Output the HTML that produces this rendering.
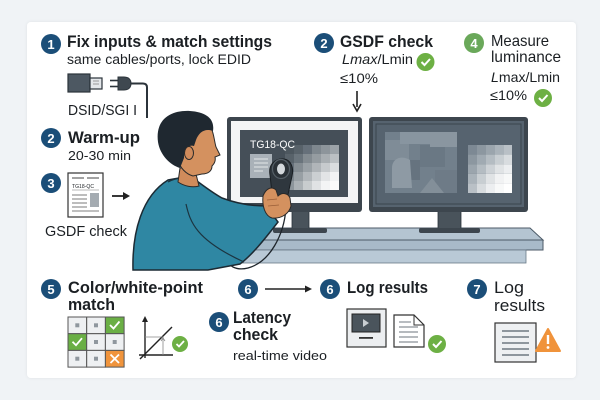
<!DOCTYPE html>
<html><head><meta charset="utf-8">
<style>
html,body{margin:0;padding:0;background:#f0f3f6;}
svg{display:block;}
text{font-family:"Liberation Sans",Arial,sans-serif;fill:#1b1f23;}
.b{font-weight:bold;}
.n{fill:#fff;font-weight:bold;font-size:13px;text-anchor:middle;}
</style></head>
<body>
<svg width="600" height="400" viewBox="0 0 600 400" xmlns="http://www.w3.org/2000/svg">
<defs>
<filter id="sh" x="-5%" y="-5%" width="110%" height="110%"><feDropShadow dx="0" dy="0" stdDeviation="1.5" flood-color="#000" flood-opacity="0.07"/></filter>
</defs>
<rect x="0" y="0" width="600" height="400" fill="#f0f3f6"/>
<rect x="27" y="22" width="549" height="356" rx="4" fill="#ffffff" filter="url(#sh)"/>

<!-- Step 1 -->
<circle cx="51" cy="44" r="10" fill="#1b4e78"/><text class="n" x="51" y="49">1</text>
<text class="b" x="67" y="47" font-size="17" textLength="205" lengthAdjust="spacingAndGlyphs">Fix inputs &amp; match settings</text>
<text x="67" y="64" font-size="13.5" textLength="184" lengthAdjust="spacingAndGlyphs">same cables/ports, lock EDID</text>
<!-- connector icon -->
<rect x="68" y="74" width="22" height="18" fill="#4d5862" stroke="#2b333a" stroke-width="1.2"/>
<rect x="90" y="78" width="12" height="11" fill="#e4e7ea" stroke="#2b333a" stroke-width="1.2"/>
<line x1="93" y1="81" x2="99" y2="81" stroke="#888" stroke-width="0.8"/>
<line x1="93" y1="84" x2="99" y2="84" stroke="#888" stroke-width="0.8"/>
<line x1="110" y1="80.5" x2="118" y2="80.5" stroke="#2b333a" stroke-width="1.6"/>
<line x1="110" y1="86.5" x2="118" y2="86.5" stroke="#2b333a" stroke-width="1.6"/>
<path d="M118,77 L124,77 C129,77 131,80 131,83.5 C131,87 129,90 124,90 L118,90 Z" fill="#3f4850" stroke="#2b333a" stroke-width="1"/>
<path d="M131,83.5 L143,83.5 Q147,83.5 147,87.5 L147,118" fill="none" stroke="#2b333a" stroke-width="2"/>
<text x="68" y="115" font-size="14.5" textLength="69" lengthAdjust="spacingAndGlyphs">DSID/SGI I</text>

<!-- Step 2 warm-up -->
<circle cx="51" cy="138" r="10" fill="#1b4e78"/><text class="n" x="51" y="143">2</text>
<text class="b" x="68" y="143" font-size="17" textLength="72" lengthAdjust="spacingAndGlyphs">Warm-up</text>
<text x="68" y="160" font-size="13" textLength="63" lengthAdjust="spacingAndGlyphs">20-30 min</text>

<!-- Step 3 -->
<circle cx="51" cy="183" r="10" fill="#1b4e78"/><text class="n" x="51" y="188">3</text>
<rect x="68" y="173" width="35" height="44" fill="#fff" stroke="#333" stroke-width="1.2"/>
<line x1="72" y1="178" x2="84" y2="178" stroke="#444" stroke-width="1"/>
<line x1="87" y1="178" x2="99" y2="178" stroke="#444" stroke-width="1"/>
<text x="72" y="188" font-size="5.5" textLength="22" lengthAdjust="spacingAndGlyphs">TG18-QC</text>
<line x1="72" y1="190" x2="99" y2="190" stroke="#777" stroke-width="0.6"/>
<line x1="72" y1="195" x2="87" y2="195" stroke="#999" stroke-width="1.3"/>
<line x1="72" y1="199" x2="87" y2="199" stroke="#999" stroke-width="1.3"/>
<line x1="72" y1="203" x2="87" y2="203" stroke="#999" stroke-width="1.3"/>
<line x1="72" y1="207" x2="87" y2="207" stroke="#999" stroke-width="1.3"/>
<line x1="72" y1="211" x2="99" y2="211" stroke="#999" stroke-width="1.3"/>
<rect x="90" y="193" width="9" height="14" fill="#a4abb1"/>
<line x1="112" y1="196" x2="125" y2="196" stroke="#222" stroke-width="1.8"/>
<polygon points="130,196 123,192 123,200" fill="#222"/>
<text x="45" y="236" font-size="15" textLength="82" lengthAdjust="spacingAndGlyphs">GSDF check</text>

<!-- Top middle: GSDF check -->
<circle cx="324" cy="43" r="10" fill="#1b4e78"/><text class="n" x="324" y="48">2</text>
<text class="b" x="340" y="47" font-size="17" textLength="93" lengthAdjust="spacingAndGlyphs">GSDF check</text>
<text x="342" y="64" font-size="14" textLength="71" lengthAdjust="spacingAndGlyphs"><tspan font-style="italic">Lmax</tspan>/Lmin</text>
<circle cx="425.5" cy="62" r="9" fill="#6db044"/>
<path d="M421.5,62 L424.5,65 L430,59" fill="none" stroke="#fff" stroke-width="2"/>
<text x="340" y="83" font-size="14" textLength="38" lengthAdjust="spacingAndGlyphs">≤10%</text>
<line x1="357" y1="91" x2="357" y2="107" stroke="#222" stroke-width="1.6"/>
<polyline points="353,104 357,111 361,104" fill="none" stroke="#222" stroke-width="1.6"/>

<!-- Step 4 -->
<circle cx="474" cy="43" r="10" fill="#6aa85a"/><text class="n" x="474" y="48">4</text>
<text x="491" y="46" font-size="16" textLength="58" lengthAdjust="spacingAndGlyphs">Measure</text>
<text x="491" y="62" font-size="16" textLength="70" lengthAdjust="spacingAndGlyphs">luminance</text>
<text x="491" y="82" font-size="14" textLength="69" lengthAdjust="spacingAndGlyphs"><tspan font-style="italic">L</tspan>max/Lmin</text>
<text x="490" y="100" font-size="14" textLength="37" lengthAdjust="spacingAndGlyphs">≤10%</text>
<circle cx="543" cy="98" r="9" fill="#6db044"/>
<path d="M539,98 L542,101 L547.5,95" fill="none" stroke="#fff" stroke-width="2"/>

<!-- Desk -->
<polygon points="236,228 530,228 543,240 236,240" fill="#b4c4d1" stroke="#4c5a67" stroke-width="1"/>
<rect x="236" y="240" width="307" height="10" fill="#a8bac9" stroke="#4c5a67" stroke-width="1"/>
<rect x="236" y="250" width="290" height="13" fill="#b9c9d6" stroke="#6a7a88" stroke-width="0.8"/>

<!-- Left monitor -->
<rect x="292" y="210" width="17" height="19" fill="#49535b" stroke="#2b333a" stroke-width="0.8"/>
<rect x="273" y="228" width="54" height="5" rx="2" fill="#3d464e"/>
<rect x="227" y="117" width="135" height="95" rx="3" fill="#3d464e"/>
<rect x="231" y="121" width="127" height="82" fill="#f4f5f6"/>
<rect x="240" y="130" width="108" height="67" fill="#454f58"/>
<g>
<rect x="285" y="145" width="9" height="9" fill="#4d575f"/><rect x="294" y="145" width="9" height="9" fill="#58626a"/><rect x="303" y="145" width="9" height="9" fill="#66707a"/><rect x="312" y="145" width="9" height="9" fill="#7e878e"/><rect x="321" y="145" width="9" height="9" fill="#8d959b"/><rect x="330" y="145" width="9" height="9" fill="#9ca3a8"/>
<rect x="285" y="154" width="9" height="9" fill="#58626a"/><rect x="294" y="154" width="9" height="9" fill="#6a747c"/><rect x="303" y="154" width="9" height="9" fill="#838b91"/><rect x="312" y="154" width="9" height="9" fill="#959ca1"/><rect x="321" y="154" width="9" height="9" fill="#a8aeb2"/><rect x="330" y="154" width="9" height="9" fill="#bbc0c3"/>
<rect x="285" y="163" width="9" height="9" fill="#66707a"/><rect x="294" y="163" width="9" height="9" fill="#858d93"/><rect x="303" y="163" width="9" height="9" fill="#9aa1a6"/><rect x="312" y="163" width="9" height="9" fill="#b0b5b9"/><rect x="321" y="163" width="9" height="9" fill="#c6cacd"/><rect x="330" y="163" width="9" height="9" fill="#dadddf"/>
<rect x="285" y="172" width="9" height="9" fill="#7e878e"/><rect x="294" y="172" width="9" height="9" fill="#989fa4"/><rect x="303" y="172" width="9" height="9" fill="#b2b7bb"/><rect x="312" y="172" width="9" height="9" fill="#cbcfd2"/><rect x="321" y="172" width="9" height="9" fill="#e2e4e6"/><rect x="330" y="172" width="9" height="9" fill="#f2f3f4"/>
<rect x="285" y="181" width="9" height="9" fill="#8d959b"/><rect x="294" y="181" width="9" height="9" fill="#abb1b5"/><rect x="303" y="181" width="9" height="9" fill="#c8ccce"/><rect x="312" y="181" width="9" height="9" fill="#e0e2e4"/><rect x="321" y="181" width="9" height="9" fill="#f3f4f5"/><rect x="330" y="181" width="9" height="9" fill="#fbfbfb"/>
</g>
<text x="250" y="148" font-size="11" style="fill:#fff" textLength="45" lengthAdjust="spacingAndGlyphs">TG18-QC</text>
<rect x="250" y="154" width="22" height="24" fill="#a9b1b8"/>
<line x1="254" y1="159" x2="268" y2="159" stroke="#e3e6e8" stroke-width="1"/>
<line x1="254" y1="163" x2="268" y2="163" stroke="#e3e6e8" stroke-width="1"/>
<line x1="254" y1="167" x2="268" y2="167" stroke="#e3e6e8" stroke-width="1"/>
<line x1="254" y1="171" x2="263" y2="171" stroke="#e3e6e8" stroke-width="1"/>

<!-- Right monitor -->
<rect x="438" y="210" width="23" height="19" fill="#49535b" stroke="#2b333a" stroke-width="0.8"/>
<rect x="419" y="228" width="61" height="5" rx="2" fill="#3d464e"/>
<rect x="369" y="117" width="159" height="95" rx="3" fill="#3d464e"/>
<rect x="373" y="121" width="151" height="86" fill="#56636f"/>
<rect x="376" y="124" width="145" height="80" fill="none" stroke="#3a444d" stroke-width="1"/>
<rect x="385" y="132" width="72" height="61" fill="#72808c"/>
<rect x="385" y="140" width="24" height="20" fill="#7f8c97"/>
<rect x="400" y="132" width="30" height="12" fill="#8895a0"/>
<rect x="420" y="145" width="25" height="22" fill="#6a7884"/>
<rect x="430" y="132" width="27" height="15" fill="#8a96a0"/>
<rect x="400" y="160" width="20" height="20" fill="#66737f"/>
<path d="M392,168 C392,158 402,155 410,160 L412,188 L392,188 Z" fill="#8e9aa4"/>
<rect x="435" y="170" width="22" height="23" fill="#6e7b87"/>
<path d="M420,193 L432,178 L444,193 Z" fill="#838f99"/>
<g>
<rect x="468" y="145" width="9" height="9.6" fill="#7d8994"/><rect x="477" y="145" width="9" height="9.6" fill="#8c97a0"/><rect x="486" y="145" width="9" height="9.6" fill="#9ba5ad"/><rect x="495" y="145" width="9" height="9.6" fill="#aab3ba"/><rect x="504" y="145" width="8" height="9.6" fill="#b9c0c6"/>
<rect x="468" y="154.6" width="9" height="9.6" fill="#8c97a0"/><rect x="477" y="154.6" width="9" height="9.6" fill="#a0aab2"/><rect x="486" y="154.6" width="9" height="9.6" fill="#b4bcc2"/><rect x="495" y="154.6" width="9" height="9.6" fill="#c8ced2"/><rect x="504" y="154.6" width="8" height="9.6" fill="#d8dcdf"/>
<rect x="468" y="164.2" width="9" height="9.6" fill="#9ba5ad"/><rect x="477" y="164.2" width="9" height="9.6" fill="#b4bcc2"/><rect x="486" y="164.2" width="9" height="9.6" fill="#cdd2d6"/><rect x="495" y="164.2" width="9" height="9.6" fill="#e0e3e5"/><rect x="504" y="164.2" width="8" height="9.6" fill="#eceef0"/>
<rect x="468" y="173.8" width="9" height="9.6" fill="#aab3ba"/><rect x="477" y="173.8" width="9" height="9.6" fill="#c8ced2"/><rect x="486" y="173.8" width="9" height="9.6" fill="#e0e3e5"/><rect x="495" y="173.8" width="9" height="9.6" fill="#f1f2f3"/><rect x="504" y="173.8" width="8" height="9.6" fill="#f8f9f9"/>
<rect x="468" y="183.4" width="9" height="9.6" fill="#b9c0c6"/><rect x="477" y="183.4" width="9" height="9.6" fill="#d8dcdf"/><rect x="486" y="183.4" width="9" height="9.6" fill="#eceef0"/><rect x="495" y="183.4" width="9" height="9.6" fill="#f8f9f9"/><rect x="504" y="183.4" width="8" height="9.6" fill="#ffffff"/>
</g>

<!-- Person -->
<path d="M286,208 C284,235 270,262 248,268 C236,271 228,266 226,258" fill="none" stroke="#1e252b" stroke-width="1.3"/>
<path d="M133,270 C132,232 142,196 168,180 L190,176 C200,183 211,192 222,198 C238,204 252,206 266,206 L278,222 C264,240 252,255 240,264 L208,270 Z" fill="#2f87a3" stroke="#1c2a33" stroke-width="1.5"/>
<path d="M186,204 C190,222 196,240 244,262" fill="none" stroke="#1c3440" stroke-width="1.2"/>
<path d="M168,182 C175,178 186,176 196,181" fill="none" stroke="#1c3440" stroke-width="1.2"/>
<!-- neck & head -->
<path d="M180,168 L194,166 L199,186 C192,188 184,186 178,182 Z" fill="#d08b5b" stroke="#2a2a2a" stroke-width="1"/>
<path d="M178,160 C179,140 190,125 210,126 C214,132 214,140 216,147 L220,155 L215,157 C216,161 214,164 212,166 C212,171 208,174 202,174 L193,176 C186,174 180,168 178,160 Z" fill="#d4915f" stroke="#2a2a2a" stroke-width="1"/>
<path d="M158,142 C155,120 170,110 190,111 C205,112 215,118 213,131 C205,128 199,132 196,140 L194,146 C188,144 184,150 184,158 L180,168 C170,165 160,155 158,142 Z" fill="#1f2830"/>
<ellipse cx="189" cy="153" rx="4.5" ry="6.5" fill="#d08b5b" stroke="#2a2a2a" stroke-width="1"/>
<!-- meter -->
<path d="M270,175 C268,164 276,158 284,159 C291,160 294,168 292,176 L286,204 C283,209 274,208 273,202 Z" fill="#2f373e" stroke="#1a1f23" stroke-width="1"/>
<ellipse cx="281" cy="169" rx="8.5" ry="9.5" fill="#2a3137" stroke="#555f67" stroke-width="1.2"/>
<ellipse cx="281" cy="169" rx="4" ry="5.5" fill="#d3d8dc"/>
<!-- hand -->
<path d="M263,196 C266,188 272,186 276,190 L278,196 C282,192 288,193 290,198 L291,206 C289,214 281,219 272,218 C265,216 262,206 263,196 Z" fill="#d4915f" stroke="#2a2a2a" stroke-width="1"/>
<path d="M267,200 L277,199 M268,206 L279,205" stroke="#9a5f38" stroke-width="0.8" fill="none"/>

<!-- Step 5 -->
<circle cx="51" cy="289" r="10" fill="#1b4e78"/><text class="n" x="51" y="294">5</text>
<text class="b" x="68" y="293" font-size="17" textLength="135" lengthAdjust="spacingAndGlyphs">Color/white-point</text>
<text class="b" x="68" y="310" font-size="17" textLength="47" lengthAdjust="spacingAndGlyphs">match</text>
<g stroke="#555" stroke-width="1">
<rect x="68" y="317" width="18.7" height="16.7" fill="#eef0f2"/>
<rect x="86.7" y="317" width="18.7" height="16.7" fill="#eef0f2"/>
<rect x="105.4" y="317" width="18.7" height="16.7" fill="#6aaf45"/>
<rect x="68" y="333.7" width="18.7" height="16.7" fill="#6aaf45"/>
<rect x="86.7" y="333.7" width="18.7" height="16.7" fill="#eef0f2"/>
<rect x="105.4" y="333.7" width="18.7" height="16.7" fill="#eef0f2"/>
<rect x="68" y="350.4" width="18.7" height="16.7" fill="#eef0f2"/>
<rect x="86.7" y="350.4" width="18.7" height="16.7" fill="#eef0f2"/>
<rect x="105.4" y="350.4" width="18.7" height="16.7" fill="#f0943c"/>
</g>
<g fill="#8f979e">
<rect x="75.3" y="323.3" width="4" height="4"/><rect x="94" y="323.3" width="4" height="4"/>
<rect x="94" y="340" width="4" height="4"/><rect x="112.7" y="340" width="4" height="4"/>
<rect x="75.3" y="356.7" width="4" height="4"/><rect x="94" y="356.7" width="4" height="4"/>
</g>
<path d="M110,325 L113.5,328.5 L119.5,321.5" fill="none" stroke="#fff" stroke-width="1.8"/>
<path d="M72.5,341.7 L76,345.2 L82,338.2" fill="none" stroke="#fff" stroke-width="1.8"/>
<path d="M110.5,354.5 L119,363 M119,354.5 L110.5,363" fill="none" stroke="#fff" stroke-width="1.8"/>
<!-- chart -->
<line x1="145" y1="321" x2="145" y2="358" stroke="#222" stroke-width="1.4"/>
<polygon points="145,316 142,322 148,322" fill="#222"/>
<line x1="139" y1="355" x2="173" y2="355" stroke="#222" stroke-width="1.4"/>
<line x1="140" y1="359" x2="172" y2="327" stroke="#222" stroke-width="1.4"/>
<polyline points="145,337 163,337 163,355" fill="none" stroke="#888" stroke-width="0.8"/>
<polyline points="161,341 163,338 165,341" fill="none" stroke="#888" stroke-width="0.8"/>
<circle cx="180" cy="344" r="8" fill="#6db044"/>
<path d="M176.5,344 L179,346.5 L184,341" fill="none" stroke="#fff" stroke-width="1.8"/>

<!-- Step 6 row -->
<circle cx="248" cy="289" r="10" fill="#1b4e78"/><text class="n" x="248" y="294">6</text>
<line x1="265" y1="289" x2="306" y2="289" stroke="#222" stroke-width="1.5"/>
<polygon points="312,289 305,285.5 305,292.5" fill="#222"/>
<circle cx="330" cy="289" r="10" fill="#1b4e78"/><text class="n" x="330" y="294">6</text>
<text class="b" x="347" y="293" font-size="17" textLength="81" lengthAdjust="spacingAndGlyphs">Log results</text>

<circle cx="219" cy="322" r="10" fill="#1b4e78"/><text class="n" x="219" y="327">6</text>
<text class="b" x="233" y="323" font-size="17" textLength="58" lengthAdjust="spacingAndGlyphs">Latency</text>
<text class="b" x="233" y="340" font-size="17" textLength="45" lengthAdjust="spacingAndGlyphs">check</text>
<text x="233" y="360" font-size="13" textLength="94" lengthAdjust="spacingAndGlyphs">real-time video</text>

<rect x="347" y="309" width="39" height="38" fill="#eceef0" stroke="#333" stroke-width="1.2"/>
<rect x="352" y="314" width="28" height="18" fill="#4a545c" stroke="#222" stroke-width="1"/>
<polygon points="363,319 363,327 369,323" fill="#c9ced2"/>
<rect x="359" y="337" width="14" height="1.8" fill="#333"/>
<path d="M394,315 L414,315 L424,325 L424,347 L394,347 Z" fill="#fff" stroke="#333" stroke-width="1.2"/>
<path d="M414,315 L414,325 L424,325" fill="none" stroke="#333" stroke-width="1"/>
<g stroke="#8a9198" stroke-width="1.2">
<line x1="399" y1="322" x2="411" y2="322"/><line x1="399" y1="327" x2="418" y2="327"/><line x1="399" y1="332" x2="418" y2="332"/><line x1="399" y1="337" x2="418" y2="337"/><line x1="399" y1="342" x2="418" y2="342"/>
</g>
<circle cx="437" cy="344" r="9" fill="#6db044"/>
<path d="M433,344 L436,347 L441.5,341" fill="none" stroke="#fff" stroke-width="2"/>

<!-- Step 7 -->
<circle cx="477" cy="289" r="10" fill="#1b4e78"/><text class="n" x="477" y="294">7</text>
<text x="494" y="293" font-size="17" textLength="30" lengthAdjust="spacingAndGlyphs">Log</text>
<text x="494" y="311" font-size="17" textLength="51" lengthAdjust="spacingAndGlyphs">results</text>
<rect x="495" y="323" width="41" height="39" fill="#eef0f2" stroke="#333" stroke-width="1.2"/>
<g stroke="#8e969d" stroke-width="2">
<line x1="502" y1="331" x2="529" y2="331"/><line x1="502" y1="337" x2="529" y2="337"/><line x1="502" y1="343" x2="529" y2="343"/><line x1="502" y1="349" x2="529" y2="349"/><line x1="502" y1="355" x2="529" y2="355"/>
</g>
<path d="M548,329 L560,351 L536,351 Z" fill="#f0933b" stroke="#f0933b" stroke-width="2" stroke-linejoin="round"/>
<rect x="546.8" y="335" width="2.4" height="9" fill="#fff"/>
<circle cx="548" cy="347.5" r="1.4" fill="#fff"/>
</svg>
</body></html>
